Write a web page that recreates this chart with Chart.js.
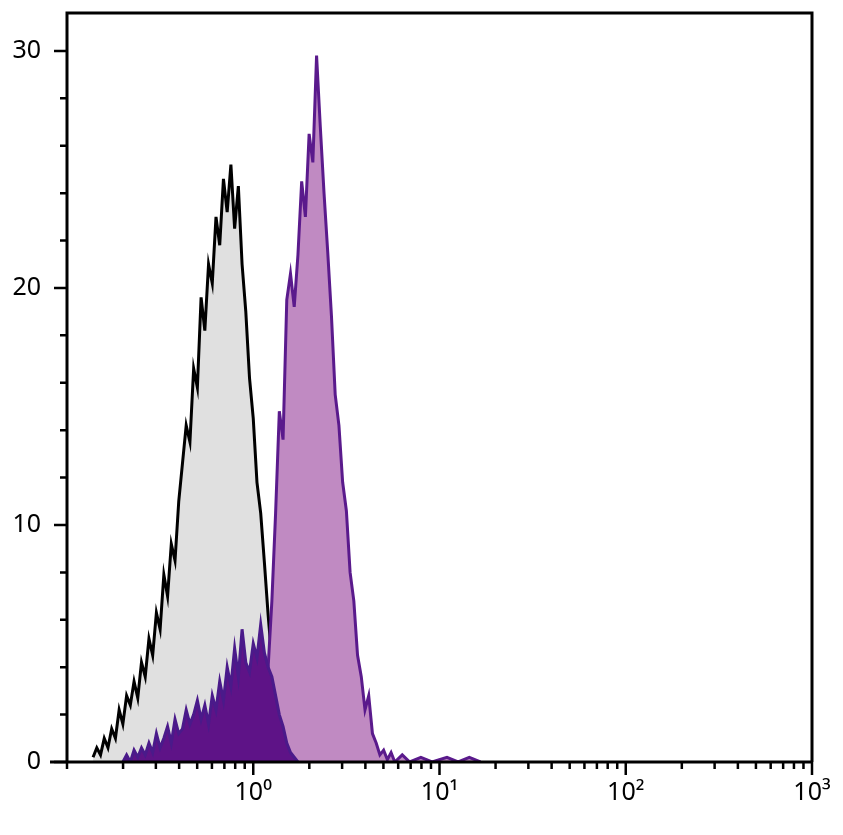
<!DOCTYPE html>
<html>
<head>
<meta charset="utf-8">
<script src="https://cdn.jsdelivr.net/npm/chart.js@4"></script>
<style>
  html, body { margin: 0; padding: 0; background: #fff; }
  #wrap { width: 843px; height: 835px; }
</style>
</head>
<body>
<div id="wrap"><canvas id="graph1"></canvas></div>
<script>
// log10 positions of histogram bins, and counts
var grayLog = [-0.86,-0.84,-0.82,-0.80,-0.78,-0.76,-0.74,-0.72,-0.70,-0.68,-0.66,-0.64,-0.62,-0.60,-0.58,-0.56,-0.54,-0.52,-0.50,-0.48,-0.46,-0.44,-0.42,-0.40,-0.38,-0.36,-0.34,-0.32,-0.30,-0.28,-0.26,-0.24,-0.22,-0.20,-0.18,-0.16,-0.14,-0.12,-0.10,-0.08,-0.06,-0.04,-0.02,0,0.02,0.04,0.06,0.08,0.10,0.12,0.14,0.16,0.18,0.20];
var grayCounts = [0.2,0.6,0.3,1.0,0.6,1.4,1.0,2.2,1.6,2.8,2.4,3.4,2.7,4.2,3.6,5.2,4.5,6.3,5.6,7.9,7.0,9.2,8.5,11.0,12.6,14.2,13.5,16.6,15.8,19.6,18.2,21.0,20.2,23.0,21.8,24.6,23.2,25.2,22.5,24.3,21.0,19.0,16.2,14.5,11.8,10.5,8.4,6.2,4.3,2.6,1.4,0.5,0.2,0];

var lightLog = [0.00,0.02,0.04,0.06,0.08,0.10,0.12,0.14,0.16,0.18,0.20,0.22,0.24,0.26,0.28,0.30,0.32,0.34,0.36,0.38,0.40,0.42,0.44,0.46,0.48,0.50,0.52,0.54,0.56,0.58,0.60,0.62,0.64,0.66,0.68,0.70,0.72,0.74,0.76,0.80,0.84,0.90,0.96,1.04,1.10,1.16,1.22];
var lightCounts = [0,0.3,1.0,2.5,4.0,6.8,10.5,14.8,13.6,19.5,20.6,19.2,21.4,24.5,23.0,26.5,25.3,29.8,26.8,24.0,21.5,18.8,15.5,14.2,11.8,10.6,8.0,6.8,4.5,3.6,2.2,2.8,1.2,0.8,0.3,0.5,0.1,0.4,0,0.3,0,0.2,0,0.2,0,0.2,0];

var darkLog = [-0.70,-0.68,-0.66,-0.64,-0.62,-0.60,-0.58,-0.56,-0.54,-0.52,-0.50,-0.48,-0.46,-0.44,-0.42,-0.40,-0.38,-0.36,-0.34,-0.32,-0.30,-0.28,-0.26,-0.24,-0.22,-0.20,-0.18,-0.16,-0.14,-0.12,-0.10,-0.08,-0.06,-0.04,-0.02,0,0.02,0.04,0.06,0.08,0.10,0.12,0.14,0.16,0.18,0.20,0.22,0.24];
var darkCounts = [0,0.3,0,0.5,0.2,0.6,0.3,0.8,0.4,1.2,0.6,1.0,1.5,0.8,1.8,1.2,1.4,2.2,1.6,2.0,2.6,1.8,2.4,1.6,2.8,2.2,3.4,2.6,4.0,3.2,4.8,3.6,5.6,4.2,3.8,5.0,4.4,5.8,4.6,4.0,3.6,2.8,2.0,1.5,0.8,0.4,0.2,0];

var xTickValues = [1, 10, 100, 1000];
var xTickLabels = ['10\u2070', '10\u00b9', '10\u00b2', '10\u00b3'];
var yTickValues = [0, 10, 20, 30];

function toPoints(logs, counts) {
  return logs.map(function (l, i) { return { x: Math.pow(10, l), y: counts[i] }; });
}

var frame = {
  id: 'frame',
  afterDraw: function (chart) {
    var ctx = chart.ctx, a = chart.chartArea;
    var xs = chart.scales.x, ys = chart.scales.y;
    ctx.save();
    ctx.strokeStyle = '#000';
    ctx.lineWidth = 3;
    ctx.beginPath();
    ctx.moveTo(50, a.bottom); ctx.lineTo(a.right, a.bottom);
    ctx.moveTo(a.left, a.bottom); ctx.lineTo(a.left, a.top);
    ctx.lineTo(a.right, a.top); ctx.lineTo(a.right, a.bottom);
    ctx.stroke();
    ctx.lineWidth = 2.5;
    ctx.beginPath();
    for (var n = -1; n <= 2; n++) {
      for (var k = 1; k <= 9; k++) {
        var v = k * Math.pow(10, n);
        if (v < 0.1) continue;
        var px = xs.getPixelForValue(v);
        ctx.moveTo(px, a.bottom);
        ctx.lineTo(px, a.bottom + (xTickValues.indexOf(v) >= 0 ? 13 : 7));
      }
    }
    var p3 = xs.getPixelForValue(1000);
    ctx.moveTo(p3, a.bottom); ctx.lineTo(p3, a.bottom + 13);
    for (var t = 0; t <= 30; t += 2) {
      var py = ys.getPixelForValue(t);
      ctx.moveTo(a.left, py);
      ctx.lineTo(a.left - (t % 10 === 0 ? 13 : 7), py);
    }
    ctx.stroke();
    ctx.restore();
  }
};

var canvas = document.getElementById('graph1');
var chart = new Chart(canvas.getContext('2d'), {
  type: 'line',
  data: {
    datasets: [
      { data: toPoints(grayLog, grayCounts), order: 3, borderColor: '#000', backgroundColor: '#e0e0e0', fill: 'origin', borderWidth: 3 },
      { data: toPoints(lightLog, lightCounts), order: 2, borderColor: '#5a1a8c', backgroundColor: '#c08ac2', fill: 'origin', borderWidth: 3 },
      { data: toPoints(darkLog, darkCounts), order: 1, borderColor: '#4a1a8a', backgroundColor: '#5e1387', fill: 'origin', borderWidth: 3 }
    ]
  },
  options: {
    responsive: true,
    maintainAspectRatio: false,
    animation: false,
    layout: { padding: { top: 13, right: 31, left: 0, bottom: 0 } },
    elements: { point: { radius: 0 }, line: { tension: 0 } },
    plugins: { legend: { display: false }, tooltip: { enabled: false } },
    scales: {
      x: {
        type: 'logarithmic', min: 0.1, max: 1000,
        grid: { display: false }, border: { display: false },
        afterBuildTicks: function (s) { s.ticks = xTickValues.map(function (v) { return { value: v }; }); },
        afterFit: function (s) { s.height = 73; s.paddingLeft = 0; s.paddingRight = 0; },
        ticks: {
          color: '#000', font: { family: 'Noto Sans', size: 25 }, padding: 8, maxRotation: 0,
          callback: function (v) { var i = xTickValues.indexOf(v); return i >= 0 ? xTickLabels[i] : ''; }
        }
      },
      y: {
        min: 0, max: 31.6,
        grid: { display: false }, border: { display: false },
        afterBuildTicks: function (s) { s.ticks = yTickValues.map(function (v) { return { value: v }; }); },
        afterFit: function (s) { s.width = 67; s.paddingTop = 0; s.paddingBottom = 0; },
        ticks: { color: '#000', font: { family: 'Noto Sans', size: 25 }, padding: 18 }
      }
    }
  },
  plugins: [frame]
});
</script>
</body>
</html>
